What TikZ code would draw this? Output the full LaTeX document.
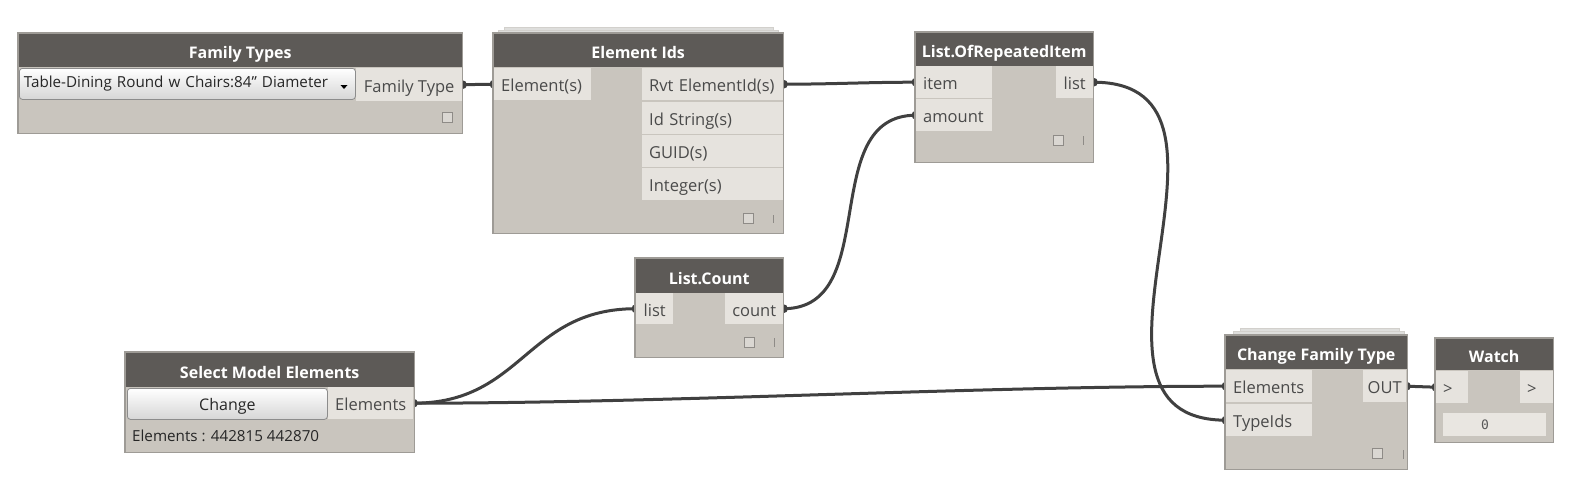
\documentclass[tikz,border=0pt]{standalone}
\usepackage{fontspec}
\setmainfont{Open Sans}
\newfontfamily\monof{DejaVu Sans Mono}
\usetikzlibrary{backgrounds}
\definecolor{headc}{HTML}{5D5A57}
\definecolor{bodyc}{HTML}{C9C5BE}
\definecolor{portc}{HTML}{E6E3DE}
\definecolor{bordc}{HTML}{9E9B96}
\definecolor{wirec}{HTML}{404040}
\definecolor{ptext}{HTML}{4A4A4A}
\definecolor{sqfill}{HTML}{DAD7D2}
\definecolor{sqdraw}{HTML}{8E8B87}
\definecolor{btnd}{HTML}{8C8C8C}
\definecolor{btnb}{HTML}{D6D6D6}
\definecolor{stk1}{HTML}{DEDEDC}
\definecolor{stk2}{HTML}{D2D0CC}
\definecolor{valc}{HTML}{E9E6E1}
\begin{document}
\begin{tikzpicture}[x=1pt,y=-1pt,
  dbody/.style={fill=bodyc, anchor=north west, inner sep=0pt},
  dframe/.style={draw=bordc, line width=1.4pt},
  dhead/.style={fill=headc, anchor=north west, inner sep=0pt, text=white, text height=17pt, text depth=0pt, font=\fontsize{16}{19}\selectfont\bfseries},
  dport/.style={fill=portc, anchor=north west, inner xsep=7pt, inner ysep=0pt, minimum height=32pt, text height=15.5pt, text depth=0pt, text=ptext, font=\fontsize{16.5}{19}\selectfont},
  sqicon/.style={draw=sqdraw, fill=sqfill, line width=0.8pt, minimum size=10pt, inner sep=0pt},
  pbar/.style={draw=sqdraw, line width=0.8pt},
  wire/.style={draw=wirec, line width=3pt},
  pinf/.style={fill=wirec},
  dbutton/.style={draw=btnd, line width=0.8pt, rounded corners=3pt, top color=white, bottom color=btnb, anchor=north west, inner ysep=0pt, minimum height=31pt, text=black!85, font=\fontsize{16}{19}\selectfont},
  stackbar/.style={fill=stk1, draw=stk2, line width=0.8pt}
]
\useasboundingbox (0,0) rectangle (1574,498);

% ---------- Family Types ----------
\node[dbody, minimum width=444pt, minimum height=100pt] (ft) at (18,33) {};
\node[dhead, minimum width=444pt, minimum height=34pt] (fth) at (18,33) {Family Types};
\node[dbutton, minimum width=336pt, inner xsep=4.5pt, text width=327pt, align=left, font=\fontsize{15.2}{18}\selectfont] (ftdd) at (19,68) {Table-Dining Round w Chairs:84\symbol{34} Diameter};
\fill[black] (340.5,85) -- (347.5,85) -- (344,89) -- cycle;
\node[dport, minimum width=106pt, inner xsep=0pt, minimum height=33pt] (ftout) at (356,68) {Family Type};
\node[sqicon] (ftsq) at (447,117) {};
\draw[dframe] (ft.north west) rectangle (ft.south east);

% ---------- Element Ids ----------
\draw[stackbar] (504,27) rectangle (773,30);
\draw[stackbar] (498,30) rectangle (778,33);
\node[dbody, minimum width=290pt, minimum height=200pt] (ei) at (493,33) {};
\node[dhead, minimum width=290pt, minimum height=34pt] (eih) at (493,33) {Element Ids};
\node[dport, text width=83pt, align=left] (eiin) at (494,68) {Element(s)};
\node[dport, inner xsep=7pt, text width=127pt, align=left] (eio1) at (642,68) {\mbox{Rvt ElementId(s)}};
\node[dport, inner xsep=7pt, text width=127pt, align=left] (eio2) at (642,101.5) {Id String(s)};
\node[dport, inner xsep=7pt, text width=127pt, align=left] (eio3) at (642,135) {GUID(s)};
\node[dport, inner xsep=7pt, text width=127pt, align=left] (eio4) at (642,168) {Integer(s)};
\node[sqicon] (eisq) at (748.5,218.5) {};
\draw[pbar] (773,215) -- (773,223);
\draw[dframe] (ei.north west) rectangle (ei.south east);

% ---------- List.OfRepeatedItem ----------
\node[dbody, minimum width=178pt, minimum height=130pt] (lr) at (915,32) {};
\node[dhead, minimum width=178pt, minimum height=34pt] (lrh) at (915,32) {List.OfRepeatedItem};
\node[dport, text width=62pt, align=left] (lritem) at (916,66) {item};
\node[dport, text width=62pt, align=left] (lramount) at (916,99) {amount};
\node[dport, minimum width=37pt, inner xsep=0pt] (lrlist) at (1056,66) {list};
\node[sqicon] (lrsq) at (1058,140) {};
\draw[pbar] (1083,136) -- (1083,145);
\draw[dframe] (lr.north west) rectangle (lr.south east);

% ---------- List.Count ----------
\node[dbody, minimum width=148pt, minimum height=99pt] (lc) at (635,258) {};
\node[dhead, minimum width=148pt, minimum height=35pt] (lch) at (635,258) {List.Count};
\node[dport, minimum width=37pt, inner xsep=0pt, minimum height=31pt] (lclist) at (636,293) {list};
\node[dport, minimum width=58pt, inner xsep=0pt, minimum height=31pt] (lccount) at (725,293) {count};
\node[sqicon] (lcsq) at (749.5,342) {};
\draw[pbar] (774,338) -- (774,347);
\draw[dframe] (lc.north west) rectangle (lc.south east);

% ---------- Select Model Elements ----------
\node[dbody, minimum width=289pt, minimum height=100pt] (sm) at (125,352) {};
\node[dhead, minimum width=289pt, minimum height=35pt] (smh) at (125,352) {Select Model Elements};
\node[dbutton, minimum width=200pt, text height=14pt, text depth=0pt] (smbtn) at (127,388) {Change};
\node[dport, minimum width=85pt, inner xsep=0pt] (smout) at (328,387) {Elements};
\node[anchor=west, inner sep=0pt, text=black!85, font=\fontsize{15.2}{18}\selectfont] (smtxt) at (132,436) {Elements : 442815 442870};
\draw[dframe] (sm.north west) rectangle (sm.south east);

% ---------- Change Family Type ----------
\draw[stackbar] (1240,328) rectangle (1399,331);
\draw[stackbar] (1233,331) rectangle (1404,335);
\node[dbody, minimum width=182pt, minimum height=134pt] (cf) at (1225,335) {};
\node[dhead, minimum width=182pt, minimum height=34pt] (cfh) at (1225,335) {Change Family Type};
\node[dport, text width=72pt, align=left] (cfel) at (1226,370) {Elements};
\node[dport, text width=72pt, align=left] (cfty) at (1226,404) {TypeIds};
\node[dport, minimum width=43pt, inner xsep=0pt] (cfout) at (1363,370) {OUT};
\node[sqicon] (cfsq) at (1377.5,453.5) {};
\draw[pbar] (1403,450) -- (1403,459);
\draw[dframe] (cf.north west) rectangle (cf.south east);

% ---------- Watch ----------
\node[dbody, minimum width=118pt, minimum height=104pt] (w) at (1435,338) {};
\node[dhead, minimum width=118pt, minimum height=32pt] (wh) at (1435,338) {Watch};
\node[dport, text width=18pt, align=left] (win) at (1436,371) {>};
\node[dport, text width=19pt, align=left] (wout) at (1520,371) {>};
\node[fill=valc, anchor=north west, inner xsep=38pt, inner ysep=0pt, text width=27pt, align=left, minimum height=23pt, text=black!65, font=\monof\fontsize{13}{15}\selectfont] (wval) at (1443,413) {0};
\draw[dframe] (w.north west) rectangle (w.south east);

% ---------- Wires ----------
\begin{scope}[on background layer]
\fill[white] (0,0) rectangle (1574,498);
\draw[wire] (ftout.east) -- (eiin.west);
\draw[wire] (eio1.east) .. controls +(50,0) and +(-50,0) .. (lritem.west);
\draw[wire] (lccount.east) .. controls +(100,0) and +(-100,0) .. (lramount.west);
\draw[wire] (smout.east) .. controls +(110,0) and +(-110,0) .. (lclist.west);
\draw[wire] (smout.east) .. controls +(250,0) and +(-250,0) .. (cfel.west);
\draw[wire] (lrlist.east) .. controls +(180,0) and +(-180,0) .. (cfty.west);
\draw[wire] (cfout.east) -- (win.west);
\fill[pinf] (ftout.east) circle[radius=4.5];
\fill[pinf] (eiin.west) circle[radius=4.5];
\fill[pinf] (eio1.east) circle[radius=4.5];
\fill[pinf] (lritem.west) circle[radius=4.5];
\fill[pinf] (lramount.west) circle[radius=4.5];
\fill[pinf] (lrlist.east) circle[radius=4.5];
\fill[pinf] (lclist.west) circle[radius=4.5];
\fill[pinf] (lccount.east) circle[radius=4.5];
\fill[pinf] (smout.east) circle[radius=4.5];
\fill[pinf] (cfel.west) circle[radius=4.5];
\fill[pinf] (cfty.west) circle[radius=4.5];
\fill[pinf] (cfout.east) circle[radius=4.5];
\fill[pinf] (win.west) circle[radius=4.5];
\end{scope}
\end{tikzpicture}
\end{document}
